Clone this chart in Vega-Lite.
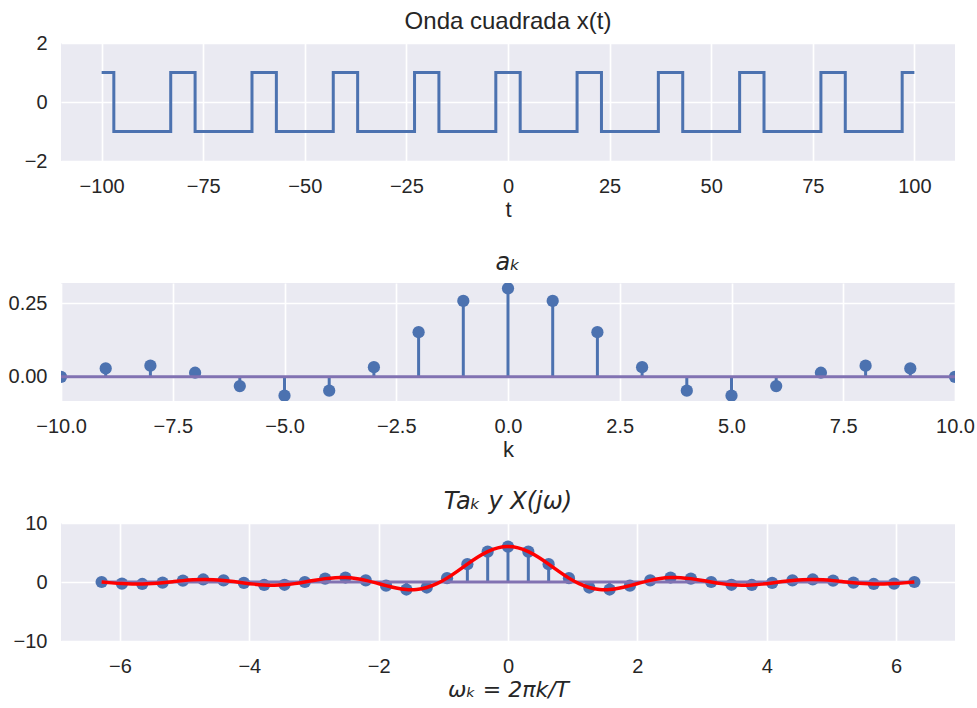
{
  "$schema": "https://vega.github.io/schema/vega-lite/v6.json",
  "padding": {"left": 8, "top": 10, "right": 2, "bottom": 4},
  "background": "#FFFFFF",
  "bounds": "flush",
  "spacing": 122,
  "config": {
    "view": {"fill": "#EAEAF2", "stroke": null},
    "axis": {
      "domain": false, "ticks": false, "tickSize": 0, "grid": true,
      "gridColor": "#FFFFFF", "gridWidth": 1.7,
      "labelFont": "Liberation Sans", "labelFontSize": 20, "labelColor": "#262626",
      "titleFont": "Liberation Sans", "titleFontSize": 22, "titleFontWeight": "normal", "titleColor": "#262626"
    },
    "axisX": {"labelPadding": 15, "titlePadding": 3, "labelFlush": false, "labelOverlap": false},
    "axisY": {"labelPadding": 14, "labelFlush": false, "labelOverlap": false},
    "title": {"font": "Liberation Sans", "fontSize": 24, "fontWeight": "normal", "color": "#262626", "anchor": "middle", "baseline": "alphabetic", "offset": -1}
  },
  "datasets": {
    "sq": [
      {"t": -100, "x": 1}, {"t": -97, "x": -1}, {"t": -83, "x": 1}, {"t": -77, "x": -1},
      {"t": -63, "x": 1}, {"t": -57, "x": -1}, {"t": -43, "x": 1}, {"t": -37, "x": -1},
      {"t": -23, "x": 1}, {"t": -17, "x": -1}, {"t": -3, "x": 1}, {"t": 3, "x": -1},
      {"t": 17, "x": 1}, {"t": 23, "x": -1}, {"t": 37, "x": 1}, {"t": 43, "x": -1},
      {"t": 57, "x": 1}, {"t": 63, "x": -1}, {"t": 77, "x": 1}, {"t": 83, "x": -1},
      {"t": 97, "x": 1}, {"t": 100, "x": 1}
    ],
    "ak": [
      {"k": -10, "ak": 0}, {"k": -9, "ak": 0.0286}, {"k": -8, "ak": 0.0378}, {"k": -7, "ak": 0.014},
      {"k": -6, "ak": -0.0312}, {"k": -5, "ak": -0.0637}, {"k": -4, "ak": -0.0468}, {"k": -3, "ak": 0.0328},
      {"k": -2, "ak": 0.1514}, {"k": -1, "ak": 0.2575}, {"k": 0, "ak": 0.3},
      {"k": 1, "ak": 0.2575}, {"k": 2, "ak": 0.1514}, {"k": 3, "ak": 0.0328}, {"k": 4, "ak": -0.0468},
      {"k": 5, "ak": -0.0637}, {"k": 6, "ak": -0.0312}, {"k": 7, "ak": 0.014}, {"k": 8, "ak": 0.0378},
      {"k": 9, "ak": 0.0286}, {"k": 10, "ak": 0}
    ],
    "tak": [
      {"w": -6.2832, "v": 0}, {"w": -5.969, "v": -0.2711}, {"w": -5.6549, "v": -0.3364}, {"w": -5.3407, "v": -0.1157},
      {"w": -5.0265, "v": 0.2339}, {"w": -4.7124, "v": 0.4244}, {"w": -4.3982, "v": 0.2673}, {"w": -4.0841, "v": -0.1513},
      {"w": -3.7699, "v": -0.5046}, {"w": -3.4558, "v": -0.4682}, {"w": -3.1416, "v": 0}, {"w": -2.8274, "v": 0.5722},
      {"w": -2.5133, "v": 0.7569}, {"w": -2.1991, "v": 0.281}, {"w": -1.885, "v": -0.6237}, {"w": -1.5708, "v": -1.2732},
      {"w": -1.2566, "v": -0.9355}, {"w": -0.9425, "v": 0.656}, {"w": -0.6283, "v": 3.027}, {"w": -0.3142, "v": 5.15},
      {"w": 0, "v": 6},
      {"w": 0.3142, "v": 5.15}, {"w": 0.6283, "v": 3.027}, {"w": 0.9425, "v": 0.656}, {"w": 1.2566, "v": -0.9355},
      {"w": 1.5708, "v": -1.2732}, {"w": 1.885, "v": -0.6237}, {"w": 2.1991, "v": 0.281}, {"w": 2.5133, "v": 0.7569},
      {"w": 2.8274, "v": 0.5722}, {"w": 3.1416, "v": 0}, {"w": 3.4558, "v": -0.4682}, {"w": 3.7699, "v": -0.5046},
      {"w": 4.0841, "v": -0.1513}, {"w": 4.3982, "v": 0.2673}, {"w": 4.7124, "v": 0.4244}, {"w": 5.0265, "v": 0.2339},
      {"w": 5.3407, "v": -0.1157}, {"w": 5.6549, "v": -0.3364}, {"w": 5.969, "v": -0.2711}, {"w": 6.2832, "v": 0}
    ],
    "xw": [
      {"w": -6.2832, "X": 0}, {"w": -6.1261, "X": -0.1482}, {"w": -5.9690, "X": -0.2711}, {"w": -5.8119, "X": -0.3399},
      {"w": -5.6549, "X": -0.3364}, {"w": -5.4978, "X": -0.2572}, {"w": -5.3407, "X": -0.1157}, {"w": -5.1836, "X": 0.0603},
      {"w": -5.0265, "X": 0.2339}, {"w": -4.8695, "X": 0.366}, {"w": -4.7124, "X": 0.4244}, {"w": -4.5553, "X": 0.3912},
      {"w": -4.3982, "X": 0.2673}, {"w": -4.2412, "X": 0.0738}, {"w": -4.0841, "X": -0.1513}, {"w": -3.927, "X": -0.3601},
      {"w": -3.7699, "X": -0.5046}, {"w": -3.6128, "X": -0.5468}, {"w": -3.4558, "X": -0.4682}, {"w": -3.2987, "X": -0.2753},
      {"w": -3.1416, "X": 0}, {"w": -2.9845, "X": 0.3042}, {"w": -2.8274, "X": 0.5722}, {"w": -2.6704, "X": 0.7397},
      {"w": -2.5133, "X": 0.7569}, {"w": -2.3562, "X": 0.6002}, {"w": -2.1991, "X": 0.281}, {"w": -2.042, "X": -0.1532},
      {"w": -1.885, "X": -0.6237}, {"w": -1.7279, "X": -1.0313}, {"w": -1.5708, "X": -1.2732}, {"w": -1.4137, "X": -1.2605},
      {"w": -1.2566, "X": -0.9355}, {"w": -1.0996, "X": -0.2845}, {"w": -0.9425, "X": 0.656}, {"w": -0.7854, "X": 1.8006},
      {"w": -0.6283, "X": 3.027}, {"w": -0.4712, "X": 4.192}, {"w": -0.3142, "X": 5.15}, {"w": -0.1571, "X": 5.78},
      {"w": 0, "X": 6},
      {"w": 0.1571, "X": 5.78}, {"w": 0.3142, "X": 5.15}, {"w": 0.4712, "X": 4.192}, {"w": 0.6283, "X": 3.027},
      {"w": 0.7854, "X": 1.8006}, {"w": 0.9425, "X": 0.656}, {"w": 1.0996, "X": -0.2845}, {"w": 1.2566, "X": -0.9355},
      {"w": 1.4137, "X": -1.2605}, {"w": 1.5708, "X": -1.2732}, {"w": 1.7279, "X": -1.0313}, {"w": 1.885, "X": -0.6237},
      {"w": 2.042, "X": -0.1532}, {"w": 2.1991, "X": 0.281}, {"w": 2.3562, "X": 0.6002}, {"w": 2.5133, "X": 0.7569},
      {"w": 2.6704, "X": 0.7397}, {"w": 2.8274, "X": 0.5722}, {"w": 2.9845, "X": 0.3042}, {"w": 3.1416, "X": 0},
      {"w": 3.2987, "X": -0.2753}, {"w": 3.4558, "X": -0.4682}, {"w": 3.6128, "X": -0.5468}, {"w": 3.7699, "X": -0.5046},
      {"w": 3.927, "X": -0.3601}, {"w": 4.0841, "X": -0.1513}, {"w": 4.2412, "X": 0.0738}, {"w": 4.3982, "X": 0.2673},
      {"w": 4.5553, "X": 0.3912}, {"w": 4.7124, "X": 0.4244}, {"w": 4.8695, "X": 0.366}, {"w": 5.0265, "X": 0.2339},
      {"w": 5.1836, "X": 0.0603}, {"w": 5.3407, "X": -0.1157}, {"w": 5.4978, "X": -0.2572}, {"w": 5.6549, "X": -0.3364},
      {"w": 5.8119, "X": -0.3399}, {"w": 5.969, "X": -0.2711}, {"w": 6.1261, "X": -0.1482}, {"w": 6.2832, "X": 0}
    ]
  },
  "vconcat": [
    {
      "width": 894, "height": 118,
      "title": {"text": "Onda cuadrada x(t)"},
      "data": {"name": "sq"},
      "mark": {"type": "line", "interpolate": "step-after", "color": "#4C72B0", "strokeWidth": 3},
      "encoding": {
        "x": {"field": "t", "type": "quantitative", "scale": {"domain": [-110, 110], "nice": false, "zero": false},
              "axis": {"values": [-100, -75, -50, -25, 0, 25, 50, 75, 100], "format": "d", "title": "t"}},
        "y": {"field": "x", "type": "quantitative", "scale": {"domain": [-2, 2], "nice": false, "zero": false},
              "axis": {"values": [-2, 0, 2], "format": "d", "title": null}}
      }
    },
    {
      "width": 894, "height": 118,
      "title": {"text": "aₖ", "font": "DejaVu Sans", "fontStyle": "italic", "offset": 8},
      "layer": [
        {
          "data": {"name": "ak"},
          "mark": {"type": "rule", "color": "#4C72B0", "strokeWidth": 3, "clip": true},
          "encoding": {
            "x": {"field": "k", "type": "quantitative", "scale": {"domain": [-10, 10], "nice": false, "zero": false},
                  "axis": {"values": [-10, -7.5, -5, -2.5, 0, 2.5, 5, 7.5, 10], "format": ".1f", "title": "k"}},
            "y": {"field": "ak", "type": "quantitative", "scale": {"domain": [-0.0819, 0.3182], "nice": false, "zero": false},
                  "axis": {"values": [0, 0.25], "format": ".2f", "title": null}},
            "y2": {"datum": 0}
          }
        },
        {
          "data": {"name": "ak"},
          "mark": {"type": "point", "shape": "circle", "filled": true, "size": 150, "color": "#4C72B0", "opacity": 1, "clip": true},
          "encoding": {
            "x": {"field": "k", "type": "quantitative"},
            "y": {"field": "ak", "type": "quantitative"}
          }
        },
        {
          "data": {"values": [{}]},
          "mark": {"type": "rule", "color": "#8172B2", "strokeWidth": 3},
          "encoding": {"x": {"datum": -10}, "x2": {"datum": 10}, "y": {"datum": 0}}
        }
      ]
    },
    {
      "width": 894, "height": 118,
      "title": {"text": "Taₖ y X(jω)", "font": "DejaVu Sans", "fontStyle": "italic"},
      "layer": [
        {
          "data": {"name": "tak"},
          "mark": {"type": "rule", "color": "#4C72B0", "strokeWidth": 3},
          "encoding": {
            "x": {"field": "w", "type": "quantitative", "scale": {"domain": [-6.9115, 6.9115], "nice": false, "zero": false},
                  "axis": {"values": [-6, -4, -2, 0, 2, 4, 6], "format": "d", "title": "ωₖ = 2πk/T", "titleFont": "DejaVu Sans", "titleFontStyle": "italic"}},
            "y": {"field": "v", "type": "quantitative", "scale": {"domain": [-10, 10], "nice": false, "zero": false},
                  "axis": {"values": [-10, 0, 10], "format": "d", "title": null}},
            "y2": {"datum": 0}
          }
        },
        {
          "data": {"name": "tak"},
          "mark": {"type": "point", "shape": "circle", "filled": true, "size": 150, "color": "#4C72B0", "opacity": 1},
          "encoding": {
            "x": {"field": "w", "type": "quantitative"},
            "y": {"field": "v", "type": "quantitative"}
          }
        },
        {
          "data": {"values": [{}]},
          "mark": {"type": "rule", "color": "#8172B2", "strokeWidth": 3},
          "encoding": {"x": {"datum": -6.2832}, "x2": {"datum": 6.2832}, "y": {"datum": 0}}
        },
        {
          "data": {"name": "xw"},
          "mark": {"type": "line", "color": "#FF0000", "strokeWidth": 3.5, "interpolate": "natural"},
          "encoding": {
            "x": {"field": "w", "type": "quantitative"},
            "y": {"field": "X", "type": "quantitative"}
          }
        }
      ]
    }
  ]
}
